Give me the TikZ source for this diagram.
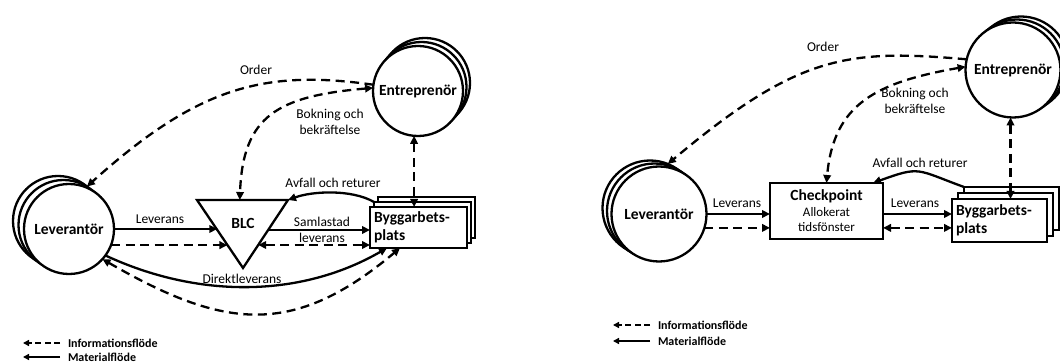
\documentclass[tikz,border=0pt]{standalone}
\usepackage{fontspec}
\setmainfont{Carlito}
\usetikzlibrary{arrows.meta,calc}
\begin{document}
\begin{tikzpicture}[x=1pt,y=1pt,
  every node/.style={inner sep=0pt,outer sep=0pt},
  mat/.style={line width=2.3pt,-{Triangle[length=8pt,width=7.5pt]}},
  inf/.style={line width=2.3pt,dash pattern=on 9pt off 5.5pt,-{Triangle[length=8pt,width=7.5pt]}},
  infd/.style={line width=2.3pt,dash pattern=on 9pt off 5.5pt,{Triangle[length=8pt,width=7.5pt]}-{Triangle[length=8pt,width=7.5pt]}},
  lgmat/.style={line width=2pt,-{Triangle[length=6pt,width=6pt]}},
  lginf/.style={line width=2pt,dash pattern=on 6pt off 3.5pt,-{Triangle[length=6pt,width=6pt]}},
  shp/.style={draw,line width=2.3pt,fill=white},
  bfont/.style={font=\bfseries\fontsize{15.5}{18.5}\selectfont},
  circ/.style={shp,circle,bfont},
  circL/.style={circ,minimum size=90pt},
  circR/.style={circ,minimum size=95pt},
  sitebox/.style={shp,rectangle,bfont,align=left,inner xsep=4pt},
  lbl/.style={font=\fontsize{13.5}{16}\selectfont,align=center},
  lgtext/.style={font=\bfseries\fontsize{12}{14}\selectfont,anchor=west}
]
\useasboundingbox (0,0) rectangle (1060,-363);

% ================= LEFT DIAGRAM =================
\node[circL] (levL3) at (58,-221) {};
\node[circL] (levL2) at (63.5,-225) {};
\node[circL] (levL) at (69,-229) {Leverantör};

\node[circL] (entL3) at (425,-83) {};
\node[circL] (entL2) at (421.5,-87) {};
\node[circL] (entL) at (418,-91) {Entreprenör};

\node[sitebox,minimum width=97pt,minimum height=41pt,text width=89pt] (byggL3) at (426.5,-217.5) {};
\node[sitebox,minimum width=97pt,minimum height=41pt,text width=89pt] (byggL2) at (422.5,-222.5) {};
\node[sitebox,minimum width=97pt,minimum height=41pt,text width=89pt] (byggL) at (418.5,-227.5) {Byggarbets-\\plats};

\coordinate (tA) at (197,-200);
\coordinate (tB) at (288,-200);
\coordinate (tC) at (243,-268);
\draw[shp] (tA) -- (tB) -- (tC) -- cycle;
\node[bfont] (blc) at (243,-223) {BLC};
\coordinate (tl1) at ($(tA)!30/68!(tC)$);
\coordinate (tl2) at ($(tA)!45/68!(tC)$);
\coordinate (tr1) at ($(tB)!30/68!(tC)$);
\coordinate (tr2) at ($(tB)!45/68!(tC)$);
\coordinate (ttop) at ($(tA)!0.47!(tB)$);

% material flows
\draw[mat] (levL.east) -- (levL.east -| tl1);
\draw[mat] (tr1) -- (tr1 -| byggL.west);
\draw[mat] (levL.-36) .. controls +(-25:101) and +(210:101) .. ($(byggL.south west)+(17,0)$);
\draw[mat] (byggL2.north west) .. controls +(150:26) and +(20:26) .. (tB);

% information flows
\draw[inf] (levL.-21) -- (levL.-21 -| tl2);
\draw[infd] (tr2) -- (tr2 -| byggL.west);
\draw[infd] (levL.-42) .. controls +(-30:140) and +(220:140) .. ($(byggL.south west)+(30,0)$);
\draw[infd] (entL.-95) -- (entL.-95 |- byggL.north);
\draw[infd] (entL.176) .. controls +(185:95) and +(88:85) .. (ttop);
\draw[inf] (entL.172) .. controls +(172:110) and +(42:150) .. (levL3.50);

% labels
\node[lbl] (lOrdL) at (256,-70) {Order};
\node[lbl] (lBokL) at (330,-122) {Bokning och\\bekräftelse};
\node[lbl] (lAvfL) at (333,-183) {Avfall och returer};
\node[lbl] (lLevL) at (160,-219) {Leverans};
\node[lbl] (lSamL) at (322,-229.5) {Samlastad\\leverans};
\node[lbl] (lDirL) at (242,-279) {Direktleverans};

% legend
\coordinate (lgL1a) at (60,-343);
\coordinate (lgL1b) at (23,-343);
\coordinate (lgL2a) at (60,-357);
\coordinate (lgL2b) at (23,-357);
\draw[lginf] (lgL1a) -- (lgL1b);
\draw[lgmat] (lgL2a) -- (lgL2b);
\node[lgtext] (lgL1) at (68,-343) {Informationsflöde};
\node[lgtext] (lgL2) at (68,-357) {Materialflöde};

% ================= RIGHT DIAGRAM =================
\node[circR] (levR3) at (650,-208) {};
\node[circR] (levR2) at (654.5,-211) {};
\node[circR] (levR) at (659,-214) {Leverantör};

\node[circR] (entR3) at (1021,-64) {};
\node[circR] (entR2) at (1017,-67) {};
\node[circR] (entR) at (1013,-70) {Entreprenör};

\node[sitebox,minimum width=95pt,minimum height=43pt,text width=87pt] (byggR3) at (1011.5,-208.5) {};
\node[sitebox,minimum width=95pt,minimum height=43pt,text width=87pt] (byggR2) at (1005.5,-214.5) {};
\node[sitebox,minimum width=95pt,minimum height=43pt,text width=87pt] (byggR) at (999.5,-220.5) {Byggarbets-\\plats};

\node[shp,rectangle,minimum width=113pt,minimum height=56pt,align=center,font=\fontsize{13}{15.5}\selectfont] (cp) at (826.5,-211)
  {{\bfseries\fontsize{15.5}{18}\selectfont Checkpoint}\\Allokerat\\tidsfönster};

% material flows
\draw[mat] (levR.east) -- (levR.east -| cp.west);
\draw[mat] (levR.east -| cp.east) -- (levR.east -| byggR.west);
\draw[mat] (byggR3.north west) .. controls +(160:51) and +(20:51) .. ($(cp.north east)+(-10,0)$);

% information flows
\draw[inf] (levR.-17) -- (levR.-17 -| cp.west);
\draw[infd] (levR.-17 -| cp.east) -- (levR.-17 -| byggR.west);
\draw[infd] (entR.-93) -- (entR.-93 |- byggR.north);
\draw[infd] (entR.176) .. controls +(190:90) and +(85:80) .. (cp.north);
\draw[inf] (entR.167) .. controls +(175:120) and +(40:170) .. (levR3.68);

% labels
\node[lbl] (lOrdR) at (823,-47) {Order};
\node[lbl] (lBokR) at (915,-101) {Bokning och\\bekräftelse};
\node[lbl] (lAvfR) at (920,-163) {Avfall och returer};
\node[lbl] (lLevR1) at (737,-203) {Leverans};
\node[lbl] (lLevR2) at (915,-203) {Leverans};

% legend
\coordinate (lgR1a) at (650,-325);
\coordinate (lgR1b) at (613,-325);
\coordinate (lgR2a) at (650,-341);
\coordinate (lgR2b) at (613,-341);
\draw[lginf] (lgR1a) -- (lgR1b);
\draw[lgmat] (lgR2a) -- (lgR2b);
\node[lgtext] (lgR1) at (658,-325) {Informationsflöde};
\node[lgtext] (lgR2) at (658,-341) {Materialflöde};
\end{tikzpicture}
\end{document}
